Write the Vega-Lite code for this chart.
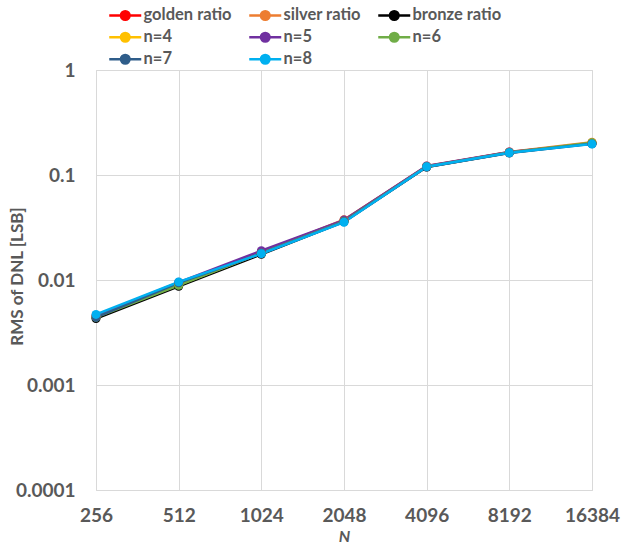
{
  "$schema": "https://vega.github.io/schema/vega-lite/v6.json",
  "width": 496,
  "height": 420,
  "autosize": {"type": "none"},
  "padding": {"left": 96, "top": 70, "right": 30, "bottom": 54},
  "background": "white",
  "config": {
    "view": {"stroke": "#D9D9D9", "strokeWidth": 1},
    "font": "Lato",
    "axis": {"labelFont": "Lato", "titleFont": "Lato", "labelColor": "#595959", "titleColor": "#595959", "labelFontWeight": "bold", "titleFontWeight": "bold", "gridColor": "#D9D9D9", "gridWidth": 1, "domain": false, "ticks": false}
  },
  "data": {"values": [
    {"s":"golden ratio","N":"256","v":0.0045},{"s":"golden ratio","N":"512","v":0.0093},{"s":"golden ratio","N":"1024","v":0.0185},{"s":"golden ratio","N":"2048","v":0.0370},{"s":"golden ratio","N":"4096","v":0.121},{"s":"golden ratio","N":"8192","v":0.165},{"s":"golden ratio","N":"16384","v":0.200},
    {"s":"silver ratio","N":"256","v":0.0044},{"s":"silver ratio","N":"512","v":0.0092},{"s":"silver ratio","N":"1024","v":0.0182},{"s":"silver ratio","N":"2048","v":0.0375},{"s":"silver ratio","N":"4096","v":0.120},{"s":"silver ratio","N":"8192","v":0.166},{"s":"silver ratio","N":"16384","v":0.205},
    {"s":"bronze ratio","N":"256","v":0.0043},{"s":"bronze ratio","N":"512","v":0.0087},{"s":"bronze ratio","N":"1024","v":0.0176},{"s":"bronze ratio","N":"2048","v":0.0360},{"s":"bronze ratio","N":"4096","v":0.119},{"s":"bronze ratio","N":"8192","v":0.163},{"s":"bronze ratio","N":"16384","v":0.201},
    {"s":"n=4","N":"256","v":0.0045},{"s":"n=4","N":"512","v":0.0090},{"s":"n=4","N":"1024","v":0.0181},{"s":"n=4","N":"2048","v":0.0365},{"s":"n=4","N":"4096","v":0.121},{"s":"n=4","N":"8192","v":0.164},{"s":"n=4","N":"16384","v":0.202},
    {"s":"n=5","N":"256","v":0.0046},{"s":"n=5","N":"512","v":0.0095},{"s":"n=5","N":"1024","v":0.0190},{"s":"n=5","N":"2048","v":0.0372},{"s":"n=5","N":"4096","v":0.122},{"s":"n=5","N":"8192","v":0.166},{"s":"n=5","N":"16384","v":0.199},
    {"s":"n=6","N":"256","v":0.0044},{"s":"n=6","N":"512","v":0.0089},{"s":"n=6","N":"1024","v":0.0180},{"s":"n=6","N":"2048","v":0.0362},{"s":"n=6","N":"4096","v":0.120},{"s":"n=6","N":"8192","v":0.164},{"s":"n=6","N":"16384","v":0.203},
    {"s":"n=7","N":"256","v":0.0044},{"s":"n=7","N":"512","v":0.0094},{"s":"n=7","N":"1024","v":0.0179},{"s":"n=7","N":"2048","v":0.0358},{"s":"n=7","N":"4096","v":0.119},{"s":"n=7","N":"8192","v":0.162},{"s":"n=7","N":"16384","v":0.198},
    {"s":"n=8","N":"256","v":0.0047},{"s":"n=8","N":"512","v":0.0096},{"s":"n=8","N":"1024","v":0.0178},{"s":"n=8","N":"2048","v":0.0355},{"s":"n=8","N":"4096","v":0.120},{"s":"n=8","N":"8192","v":0.163},{"s":"n=8","N":"16384","v":0.197}
  ]},
  "encoding": {
    "x": {"field": "N", "type": "ordinal", "sort": null, "scale": {"type": "point", "padding": 0},
      "axis": {"title": "N", "titleFontStyle": "italic", "titleFontSize": 16, "labelFontSize": 19, "labelAngle": 0, "labelPadding": 16, "titlePadding": 3, "grid": true}},
    "y": {"field": "v", "type": "quantitative", "scale": {"type": "log", "domain": [0.0001, 1]},
      "axis": {"title": "RMS of DNL [LSB]", "titleFontSize": 17, "labelFontSize": 19, "values": [0.0001, 0.001, 0.01, 0.1, 1], "format": "~g", "labelPadding": 21, "titleX": -79, "titleY": 206, "titleBaseline": "middle", "grid": true}},
    "color": {"field": "s", "type": "nominal", "sort": null,
      "scale": {"domain": ["golden ratio","silver ratio","bronze ratio","n=4","n=5","n=6","n=7","n=8"],
                "range": ["#FF0000","#ED7D31","#000000","#FFC000","#7030A0","#70AD47","#2F5D8A","#00B0F0"]},
      "legend": {"title": null, "orient": "none", "legendX": 21, "legendY": -63, "direction": "horizontal", "columns": 3, "gridAlign": "each", "columnPadding": 12, "rowPadding": 2, "padding": 0,
        "symbolType": "M-3.2,0L3.2,0M-0.86,0A0.86,0.86,0,1,1,0.86,0A0.86,0.86,0,1,1,-0.86,0Z", "symbolSize": 100, "symbolStrokeWidth": 2.5, "symbolOpacity": 1,
        "labelFont": "Lato", "labelFontSize": 16.5, "labelFontWeight": "bold", "labelColor": "#595959", "labelOffset": 10}}
  },
  "layer": [
    {"mark": {"type": "line", "strokeWidth": 2.5}},
    {"mark": {"type": "point", "filled": true, "size": 80, "opacity": 1}}
  ]
}
